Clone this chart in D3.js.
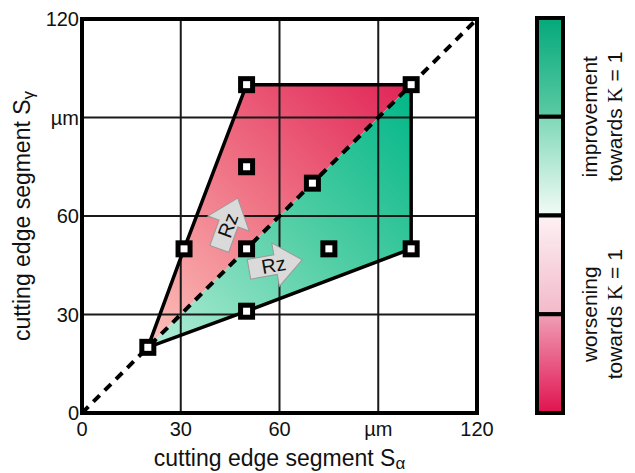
<!DOCTYPE html>
<html>
<head>
<meta charset="utf-8">
<script src="https://cdn.jsdelivr.net/npm/d3@7"></script>
<style>
  body { margin: 0; background: #fff; }
  text { font-family: "Liberation Sans", Arial, sans-serif; fill: #111; }
</style>
</head>
<body>
<script>
// corners of the tested region (S_alpha, S_gamma in µm)
const hullX = [20, 31, 50, 100, 100, 50];
const hullY = [20, 50, 100, 100, 50, 31];
// measured tool variants
const pointX = [20, 31, 50, 100, 100, 50, 50, 50, 70, 75];
const pointY = [20, 50, 100, 100, 50, 31, 50, 75, 70, 50];
const tickValues = [0, 30, 60, 90, 120];
const tickLabels = ["0", "30", "60", "µm", "120"];
// colour bar segments, top to bottom
const barTop = ["#04a97b", "#7fd8b8", "#fdf1f4", "#f09fb6"];
const barBottom = ["#5ccaa4", "#f2fbf6", "#f3b9c9", "#e0124f"];
const barLabels = [["improvement", "towards "], ["worsening", "towards "]];

const W = 635, H = 473;
const svg = d3.select("body").append("svg").attr("width", W).attr("height", H);
const defs = svg.append("defs");

const x = d3.scaleLinear().domain([0, 120]).range([82, 477]);
const y = d3.scaleLinear().domain([0, 120]).range([413, 19]);

function grad(id, c0, c1, mid) {
  const g = defs.append("linearGradient").attr("id", id)
    .attr("gradientUnits", "userSpaceOnUse")
    .attr("x1", x(20)).attr("y1", y(20)).attr("x2", x(100)).attr("y2", y(100));
  g.append("stop").attr("offset", 0).attr("stop-color", c0);
  if (mid) g.append("stop").attr("offset", 0.5).attr("stop-color", mid);
  g.append("stop").attr("offset", 1).attr("stop-color", c1);
}
grad("redGrad", "#fcc2ba", "#e02456", "#ef7284");
grad("greenGrad", "#b4eed8", "#00b687", "#55cfa6");

const hull = hullX.map((v, i) => [x(v), y(hullY[i])]);
const line = d3.line();
// red half (above diagonal) and green half (below)
svg.append("path").attr("d", line([hull[0], hull[1], hull[2], hull[3]]) + "Z")
  .attr("fill", "url(#redGrad)");
svg.append("path").attr("d", line([hull[0], hull[3], hull[4], hull[5]]) + "Z")
  .attr("fill", "url(#greenGrad)");

// grid
const grid = svg.append("g").attr("stroke", "#1a1a1a").attr("stroke-width", 2);
tickValues.slice(1, -1).forEach(v => {
  grid.append("line").attr("x1", x(v)).attr("x2", x(v)).attr("y1", y(0)).attr("y2", y(120));
  grid.append("line").attr("y1", y(v)).attr("y2", y(v)).attr("x1", x(0)).attr("x2", x(120));
});
svg.append("rect").attr("x", x(0)).attr("y", y(120))
  .attr("width", x(120) - x(0)).attr("height", y(0) - y(120))
  .attr("fill", "none").attr("stroke", "#000").attr("stroke-width", 4);

// tick labels
svg.append("g").selectAll("text").data(tickValues).join("text")
  .attr("x", d => x(d)).attr("y", 436).attr("text-anchor", "middle")
  .attr("font-size", 20).text((d, i) => tickLabels[i]);
svg.append("g").selectAll("text").data(tickValues).join("text")
  .attr("x", 79).attr("y", d => y(d) + 7).attr("text-anchor", "end")
  .attr("font-size", 20).text((d, i) => tickLabels[i]);

// axis titles
const xt = svg.append("text").attr("x", (x(0) + x(120)) / 2).attr("y", 466)
  .attr("text-anchor", "middle").attr("font-size", 23);
xt.append("tspan").text("cutting edge segment S");
xt.append("tspan").attr("font-size", 17).attr("dy", 3).text("α");
const yt = svg.append("text").attr("transform", `translate(30,${(y(0) + y(120)) / 2}) rotate(-90)`)
  .attr("text-anchor", "middle").attr("font-size", 23);
yt.append("tspan").text("cutting edge segment S");
yt.append("tspan").attr("font-size", 17).attr("dy", 4).text("γ");

// hull outline
svg.append("path").attr("d", line(hull) + "Z")
  .attr("fill", "none").attr("stroke", "#000").attr("stroke-width", 3.5)
  .attr("stroke-linejoin", "miter");

// K = 1 diagonal
svg.append("line").attr("x1", x(0)).attr("y1", y(0)).attr("x2", x(120)).attr("y2", y(120))
  .attr("stroke", "#000").attr("stroke-width", 4).attr("stroke-dasharray", "9,7");

// Rz arrows: centre in data units, angle in degrees
const arrowX = [44.5, 58.8];
const arrowY = [57.7, 45.2];
const arrowAngle = [-70, -10];
const arrowShape = [[-27, -10], [0, -10], [0, -22], [27, 0], [0, 22], [0, 10], [-27, 10]];
arrowX.forEach((ax, i) => {
  const g = svg.append("g")
    .attr("transform", `translate(${x(ax)},${y(arrowY[i])}) rotate(${arrowAngle[i]})`);
  g.append("path").attr("d", line(arrowShape) + "Z")
    .attr("fill", "#dadada").attr("stroke", "#9a9a9a").attr("stroke-width", 1);
  g.append("text").attr("x", -2).attr("y", 7).attr("text-anchor", "middle")
    .attr("font-size", 20).text("Rz");
});

// markers
svg.append("g").selectAll("rect").data(pointX).join("rect")
  .attr("x", d => x(d) - 6).attr("y", (d, i) => y(pointY[i]) - 6)
  .attr("width", 12).attr("height", 12)
  .attr("fill", "#fff").attr("stroke", "#000").attr("stroke-width", 5);

// colour bar
const bar = d3.scaleLinear().domain([0, 4]).range([18, 413]);
barTop.forEach((c, i) => {
  const g = defs.append("linearGradient").attr("id", "bar" + i)
    .attr("x1", 0).attr("y1", 0).attr("x2", 0).attr("y2", 1);
  g.append("stop").attr("offset", 0).attr("stop-color", c);
  g.append("stop").attr("offset", 1).attr("stop-color", barBottom[i]);
  svg.append("rect").attr("x", 537).attr("y", bar(i)).attr("width", 26)
    .attr("height", bar(i + 1) - bar(i)).attr("fill", `url(#bar${i})`)
    .attr("stroke", "#000").attr("stroke-width", 4);
});
barLabels.forEach((lab, i) => {
  const cy = bar(1 + 2 * i);
  svg.append("text").attr("transform", `translate(597,${cy}) rotate(-90)`)
    .attr("text-anchor", "middle").attr("font-size", 21).text(lab[0]);
  const t = svg.append("text").attr("transform", `translate(622,${cy}) rotate(-90)`)
    .attr("text-anchor", "middle").attr("font-size", 21);
  t.append("tspan").text(lab[1]);
  t.append("tspan").attr("font-family", "Liberation Serif").text("K");
  t.append("tspan").text(" = 1");
});
</script>
</body>
</html>
